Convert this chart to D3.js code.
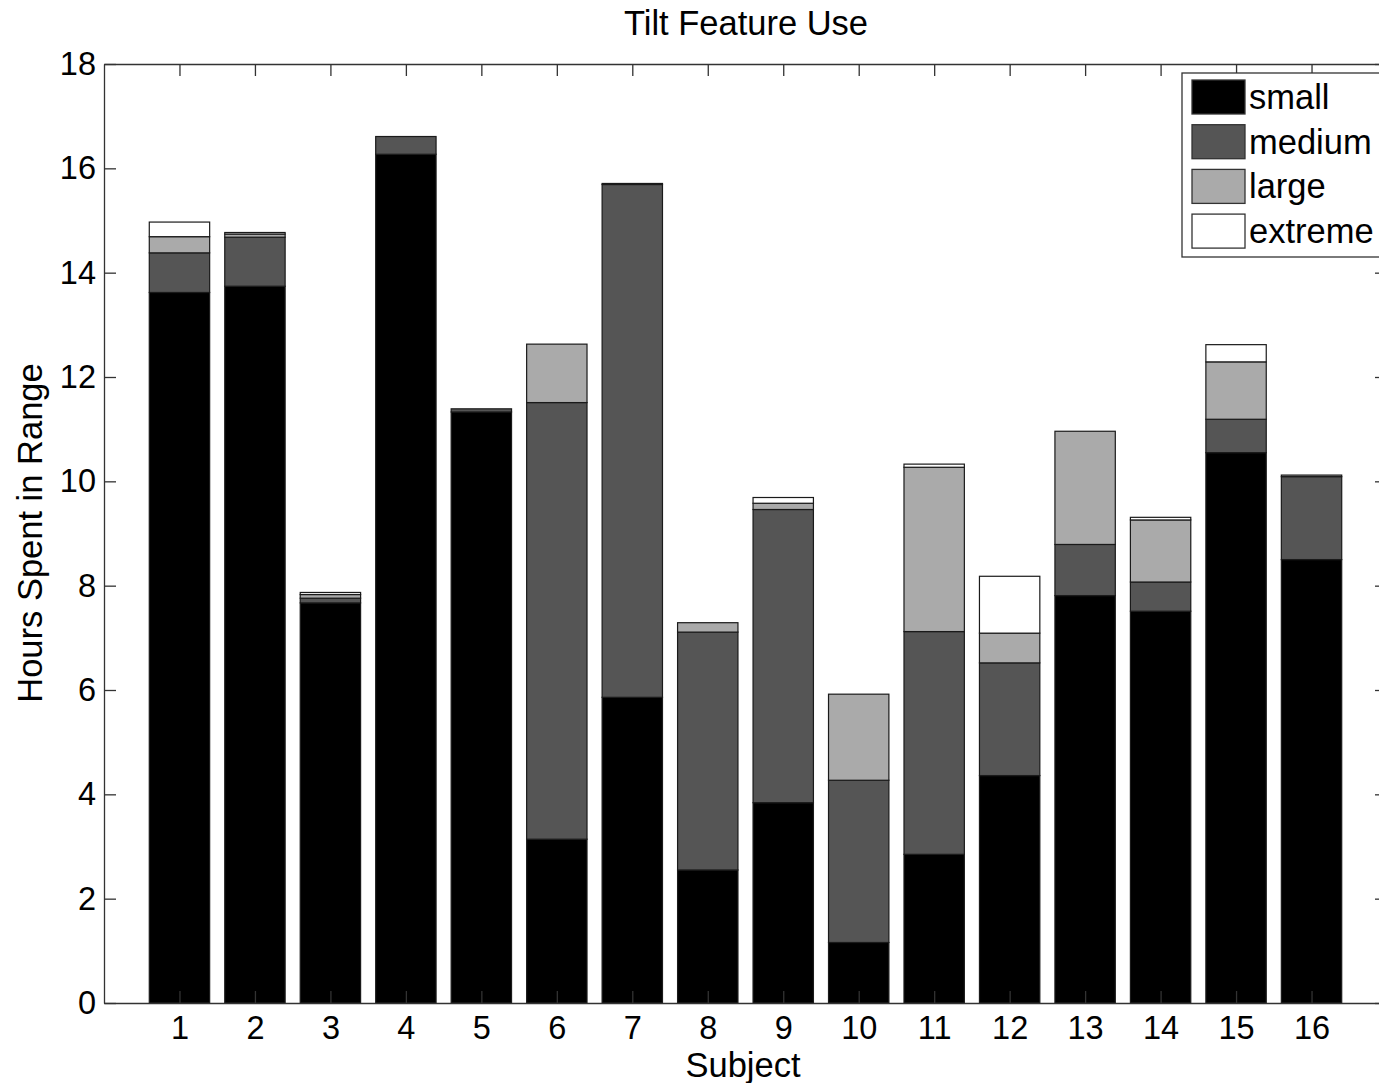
<!DOCTYPE html>
<html lang="en">
<head>
<meta charset="UTF-8">
<title>Tilt Feature Use</title>
<script src="https://d3js.org/d3.v7.min.js"></script>
<style>
	body{ margin:0; background:#fff; }
	svg text{ font-family:"Liberation Sans", Arial, sans-serif; fill:#000; }
</style>
</head>
<body>
<div id="chart"></div>
<script>
// hours spent in each tilt range, per subject
const subjects = [1,2,3,4,5,6,7,8,9,10,11,12,13,14,15,16];
const small   = [13.62,13.74,7.67,16.27,11.33,3.14,5.86,2.55,3.84,1.16,2.85,4.36,7.81,7.51,10.55,8.50];
const medium  = [0.76,0.94,0.09,0.34,0.06,8.37,9.83,4.56,5.62,3.11,4.27,2.16,0.98,0.56,0.64,1.59];
const large   = [0.31,0.06,0.07,0,0,1.12,0.02,0.18,0.12,1.65,3.15,0.57,2.17,1.19,1.10,0.03];
const extreme = [0.28,0.03,0.04,0,0,0,0,0,0.11,0,0.06,1.09,0,0.05,0.33,0];
const seriesNames = ["small","medium","large","extreme"];
const seriesColors = ["#000000","#555555","#aaaaaa","#ffffff"];
const yTicks = [0,2,4,6,8,10,12,14,16,18];

const width = 1379, height = 1083;
const axLeft = 104, axRight = 1387, axTop = 64, axBottom = 1003;
const fs = 34.5, tickFs = 32.5;

const svg = d3.select("#chart").append("svg")
	.attr("width", width).attr("height", height);

const x = d3.scaleLinear().domain([0,17]).range([axLeft,axRight]);
const y = d3.scaleLinear().domain([0,18]).range([axBottom,axTop]);

const table = subjects.map((s,i)=>({subject:s, small:small[i], medium:medium[i], large:large[i], extreme:extreme[i]}));
const stacked = d3.stack().keys(seriesNames)(table);
const color = d3.scaleOrdinal().domain(seriesNames).range(seriesColors);

//bars
const barW = x(0.8)-x(0);
svg.append("g").selectAll("g").data(stacked).enter().append("g")
	.attr("fill", d=>color(d.key))
	.selectAll("rect").data(d=>d).enter().append("rect")
	.attr("x", d=>x(d.data.subject)-barW/2)
	.attr("y", d=>y(d[1]))
	.attr("width", barW)
	.attr("height", d=>y(d[0])-y(d[1]))
	.attr("stroke","#1a1a1a")
	.attr("stroke-width",1.2);

//axes box
const tl = 12;
const axB = d3.axisBottom(x).tickValues(subjects).tickSizeInner(-tl).tickSizeOuter(0).tickPadding(13);
const axT = d3.axisTop(x).tickValues(subjects).tickSizeInner(-tl).tickSizeOuter(0).tickFormat("");
const axL = d3.axisLeft(y).tickValues(yTicks).tickSizeInner(-tl).tickSizeOuter(0).tickPadding(8);
const axR = d3.axisRight(y).tickValues(yTicks).tickSizeInner(-tl).tickSizeOuter(0).tickFormat("");

function style(g){
	g.select(".domain").attr("stroke","#333").attr("stroke-width",1.3);
	g.selectAll(".tick line").attr("stroke","#333").attr("stroke-width",1.3);
	g.selectAll(".tick text").attr("font-size",tickFs).attr("font-family",null);
}
svg.append("g").attr("transform",`translate(0,${axBottom})`).call(axB).call(style);
svg.append("g").attr("transform",`translate(0,${axTop})`).call(axT).call(style);
svg.append("g").attr("transform",`translate(${axLeft},0)`).call(axL).call(style);
svg.append("g").attr("transform",`translate(${axRight},0)`).call(axR).call(style);

//labels
svg.append("text").attr("x",746).attr("y",35).attr("text-anchor","middle")
	.attr("font-size",fs).text("Tilt Feature Use");
svg.append("text").attr("x",743).attr("y",1077).attr("text-anchor","middle")
	.attr("font-size",fs).text("Subject");
svg.append("text").attr("transform","translate(42,533) rotate(-90)").attr("text-anchor","middle")
	.attr("font-size",fs).text("Hours Spent in Range");

//legend
const lg = svg.append("g");
lg.append("rect").attr("x",1182).attr("y",73).attr("width",210).attr("height",184)
	.attr("fill","#fff").attr("stroke","#333").attr("stroke-width",1.3);
const items = lg.selectAll("g.item").data(seriesNames).enter().append("g")
	.attr("transform",(d,i)=>`translate(1192,${80+i*44.7})`);
items.append("rect").attr("width",53).attr("height",34)
	.attr("fill",d=>color(d)).attr("stroke","#333").attr("stroke-width",1.3);
items.append("text").attr("x",57).attr("y",29).attr("font-size",fs).text(d=>d);
</script>
</body>
</html>
